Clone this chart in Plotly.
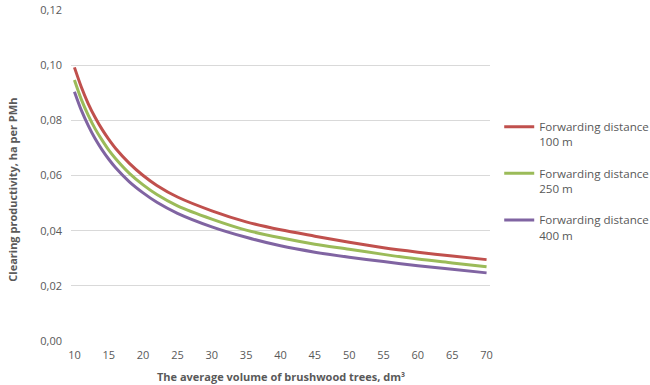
import plotly.graph_objects as go

volume = [10, 11, 12, 13, 14, 15, 16, 18, 20, 22, 25, 30, 35, 40, 45, 50, 55, 60, 65, 70]
dist_100 = [0.0992, 0.0921, 0.0861, 0.0811, 0.0768, 0.0731, 0.0698, 0.0644, 0.0600, 0.0564,
            0.0522, 0.0472, 0.0432, 0.0403, 0.0380, 0.0358, 0.0338, 0.0322, 0.0308, 0.0295]
dist_250 = [0.0946, 0.0876, 0.0819, 0.0770, 0.0729, 0.0692, 0.0661, 0.0608, 0.0566, 0.0531,
            0.0490, 0.0442, 0.0402, 0.0374, 0.0351, 0.0333, 0.0314, 0.0297, 0.0283, 0.0269]
dist_400 = [0.0904, 0.0837, 0.0782, 0.0734, 0.0694, 0.0659, 0.0628, 0.0577, 0.0537, 0.0503,
            0.0463, 0.0414, 0.0376, 0.0345, 0.0322, 0.0304, 0.0288, 0.0273, 0.0260, 0.0247]

series_names = ["Forwarding distance<br>100 m", "Forwarding distance<br>250 m", "Forwarding distance<br>400 m"]
colors = ["#C0504D", "#9BBB59", "#8064A2"]
x_ticks = [10, 15, 20, 25, 30, 35, 40, 45, 50, 55, 60, 65, 70]

FONT = "Open Sans"
GRAY = "#595959"

fig = go.Figure()
for name, vals, col, g in zip(series_names, [dist_100, dist_250, dist_400], colors, ["a", "b", "c"]):
    fig.add_trace(go.Scatter(x=volume, y=vals, mode="lines", name=name, legendgroup=g,
                             line=dict(color=col, width=3, shape="spline", smoothing=0.8)))

fig.update_layout(
    width=650, height=385,
    margin=dict(l=71, r=160, t=10, b=44, autoexpand=False),
    paper_bgcolor="white", plot_bgcolor="white",
    separators=", ",
    font=dict(family=FONT, size=11, color=GRAY),
    showlegend=True,
    legend=dict(x=1.022, y=0.69, xanchor="left", yanchor="top", valign="top",
                font=dict(family=FONT, size=11.6, color=GRAY), tracegroupgap=13.5,
                bgcolor="rgba(0,0,0,0)"),
    xaxis=dict(range=[9.5, 70.5], tickmode="array", tickvals=x_ticks, showgrid=False,
               zeroline=False, showline=False, ticks="", ticklabelstandoff=6,
               tickfont=dict(size=11, color=GRAY)),
    yaxis=dict(range=[0, 0.12], dtick=0.02, tickformat=".2f", showgrid=True,
               gridcolor="#D9D9D9", gridwidth=1, zeroline=False, showline=False, ticks="",
               ticklabelstandoff=8, tickfont=dict(size=11, color=GRAY)),
    annotations=[
        dict(text="<b>The average volume of brushwood trees, dm³</b>", xref="paper", yref="paper",
             x=0.5, y=0, yshift=-35, xanchor="center", yanchor="middle", showarrow=False,
             font=dict(family=FONT, size=11, color=GRAY)),
        dict(text="<b>Clearing productivity, ha per PMh</b>", xref="paper", yref="paper",
             x=0, xshift=-58, y=0.457, xanchor="center", yanchor="middle", textangle=-90,
             showarrow=False, font=dict(family=FONT, size=11, color=GRAY)),
    ],
)

fig.write_html("out.html", config={"displayModeBar": False},
               post_script="document.body.style.margin='0';")
